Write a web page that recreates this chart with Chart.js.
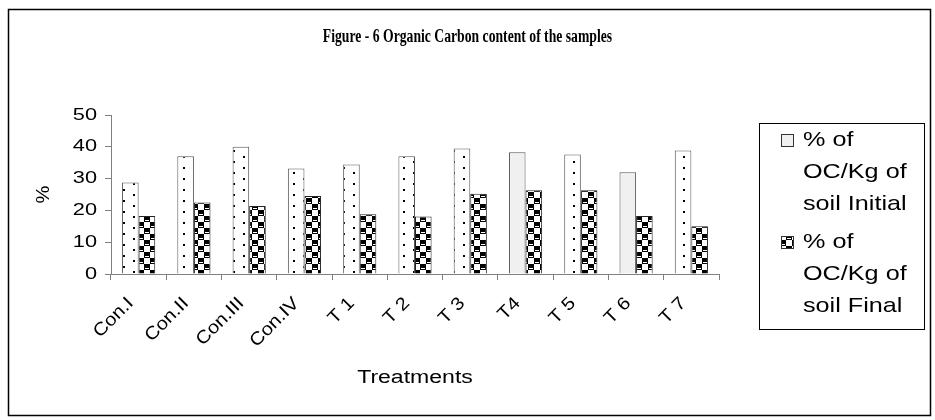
<!DOCTYPE html>
<html><head><meta charset="utf-8">
<script src="https://cdn.jsdelivr.net/npm/chart.js@4.4.1/dist/chart.umd.min.js"></script>
<style>html,body{margin:0;padding:0;background:#fff}#wrap{width:935px;height:420px;position:relative}</style>
</head><body><div id="wrap"><canvas id="c" width="935" height="420"></canvas></div>
<script>
// ---- data ----
const categories = ["Con.I","Con.II","Con.III","Con.IV","T 1","T 2","T 3","T4","T 5","T 6","T 7"];
const initialOC = [28.8, 37.0, 40.0, 33.2, 34.4, 37.0, 39.5, 38.3, 37.6, 32.0, 38.8];
const finalOC   = [18.2, 22.5, 21.4, 24.5, 18.8, 18.1, 25.2, 26.3, 26.3, 18.2, 15.0];
const seriesNames = ["% of OC/Kg of soil Initial", "% of OC/Kg of soil Final"];
const yTicks = [0, 10, 20, 30, 40, 50];
const chartTitle = "Figure - 6 Organic Carbon content of the samples";
const xTitle = "Treatments";
const yTitle = "%";

// ---- styles ----
const plainInitialCats = ["T4", "T 6"];
const SANS = "'Liberation Sans', Arial, sans-serif";
const SERIF = "'Liberation Serif', 'Times New Roman', serif";
Chart.defaults.font.family = SANS;
Chart.defaults.color = '#000';

const canvas = document.getElementById('c');
const cctx = canvas.getContext('2d');
// text in the reference is horizontally widened (sans) / condensed (serif title)
let textScaleOverride = null;
const origFill = cctx.fillText.bind(cctx);
cctx.fillText = function(text, x, y){
  const t = this.getTransform();
  const rotated = Math.abs(t.b) > 0.01;
  let sx = this.font.indexOf('Serif') >= 0 ? 0.76 : (rotated ? 1.12 : 1.28);
  if (textScaleOverride) sx = textScaleOverride;
  this.save(); this.translate(x, y); this.scale(sx, 1); origFill(text, 0, 0); this.restore();
};

function makeDots(){
  const c=document.createElement('canvas'); c.width=20; c.height=11;
  const g=c.getContext('2d'); g.fillStyle='#fff'; g.fillRect(0,0,20,11);
  g.fillStyle='#000'; g.fillRect(3,2,2,2); g.fillRect(13,7,2,2);
  return g.createPattern(c,'repeat');
}
function makeChecker(){
  const c=document.createElement('canvas'); c.width=12; c.height=12;
  const g=c.getContext('2d'); g.fillStyle='#fff'; g.fillRect(0,0,12,12);
  g.fillStyle='#000'; g.fillRect(0,0,6,6); g.fillRect(6,6,6,6);
  g.fillStyle='#fff'; g.fillRect(1,4,4,1); g.fillRect(7,10,4,1);
  return g.createPattern(c,'repeat');
}
const dots = makeDots();
const checker = makeChecker();
const initialColors = categories.map(c => plainInitialCats.includes(c) ? '#f0f0f0' : dots);

function wrap(g, text, maxW){
  const words = text.split(' '); const lines=[]; let cur='';
  words.forEach(w=>{ const t = cur ? cur+' '+w : w;
    if (cur && g.measureText(t).width > maxW){ lines.push(cur); cur=w; } else cur=t; });
  if (cur) lines.push(cur); return lines;
}

const frameAndLegend = {
  id:'frameAndLegend',
  afterDraw(chart){
    const g=chart.ctx; g.save();
    g.strokeStyle='#000'; g.lineWidth=1.5; g.strokeRect(8.5,9.5,922,406);
    g.lineWidth=1; g.strokeStyle='#000'; g.strokeRect(759.5,123.5,165,206);
    g.font = '21px ' + SANS; g.textBaseline='middle'; g.textAlign='left';
    textScaleOverride = 1.2;
    let y = 140;
    chart.data.datasets.forEach((ds,i)=>{
      const lines = wrap(g, ds.label, 105);
      g.fillStyle = i===0 ? '#f0f0f0' : checker;
      g.fillRect(781, y-6, 12, 12);
      g.strokeStyle='#333'; g.strokeRect(781.5, y-5.5, 12, 12);
      g.fillStyle='#000';
      lines.forEach((ln,j)=>g.fillText(ln, 803, y + j*32));
      y += lines.length*32 + 6;
    });
    textScaleOverride = null;
    g.restore();
  }
};

new Chart(canvas, {
  type:'bar',
  data:{
    labels: categories,
    datasets:[
      {label: seriesNames[0], data: initialOC, backgroundColor: initialColors, borderColor:'#555', borderWidth:1, categoryPercentage:0.6, barPercentage:1.0},
      {label: seriesNames[1], data: finalOC, backgroundColor: checker, borderColor:'#222', borderWidth:1, categoryPercentage:0.6, barPercentage:1.0}
    ]
  },
  options:{
    responsive:false, animation:false, devicePixelRatio:1,
    layout:{ padding:{ left:0, right:0, top:0, bottom:0 } },
    plugins:{
      legend:{ display:false },
      tooltip:{ enabled:false },
      title:{ display:true, text: chartTitle, color:'#000',
        font:{ family:SERIF, size:18, weight:'bold' },
        padding:{ top:27, bottom:66.4 } }
    },
    scales:{
      x:{
        grid:{ drawOnChartArea:false, offset:true, color:'#808080', tickLength:6 },
        border:{ color:'#808080' },
        ticks:{ minRotation:45, maxRotation:45, font:{ size:18 }, padding:13, labelOffset:-8, color:'#000' },
        title:{ display:true, text:xTitle, font:{ size:18 }, padding:{ top:0, bottom:31 }, color:'#000' },
        afterFit(s){ s.height = 146; }
      },
      y:{
        min:0, max:50,
        afterBuildTicks(s){ s.ticks = yTicks.map(v=>({value:v})); },
        ticks:{ font:{ size:17 }, padding:8, color:'#000' },
        grid:{ drawOnChartArea:false, color:'#808080', tickLength:6 },
        border:{ color:'#808080' },
        title:{ display:true, text:yTitle, font:{ size:18 }, padding:{ top:33, bottom:0 }, color:'#000' },
        afterFit(s){ s.width = 111; }
      },
      legendSpace:{
        position:'right', display:true,
        grid:{ display:false }, border:{ display:false }, ticks:{ display:false },
        afterFit(s){ s.width = 216; }
      }
    }
  },
  plugins:[frameAndLegend]
});
</script></body></html>
